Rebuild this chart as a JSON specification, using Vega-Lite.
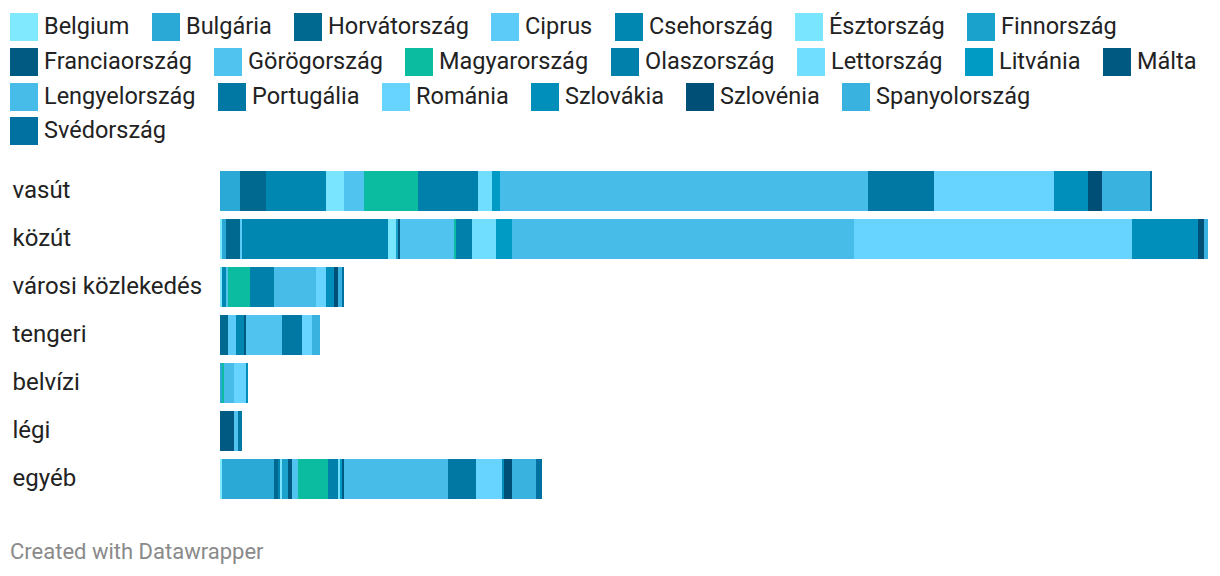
{
  "$schema": "https://vega.github.io/schema/vega-lite/v6.json",
  "width": 988,
  "height": 336,
  "autosize": {"type": "none"},
  "padding": {"left": 220, "top": 167, "right": 12, "bottom": 73},
  "background": "white",
  "title": {
    "text": "Created with Datawrapper",
    "orient": "bottom",
    "anchor": "start",
    "frame": "group",
    "dx": -210,
    "offset": 39,
    "font": "Roboto",
    "fontSize": 22,
    "fontWeight": "normal",
    "color": "#8a8a8a"
  },
  "datasets": {
    "countries": [
      {"country": "Belgium", "n": 1},
      {"country": "Bulgária", "n": 2},
      {"country": "Horvátország", "n": 3},
      {"country": "Ciprus", "n": 4},
      {"country": "Csehország", "n": 5},
      {"country": "Észtország", "n": 6},
      {"country": "Finnország", "n": 7},
      {"country": "Franciaország", "n": 8},
      {"country": "Görögország", "n": 9},
      {"country": "Magyarország", "n": 10},
      {"country": "Olaszország", "n": 11},
      {"country": "Lettország", "n": 12},
      {"country": "Litvánia", "n": 13},
      {"country": "Málta", "n": 14},
      {"country": "Lengyelország", "n": 15},
      {"country": "Portugália", "n": 16},
      {"country": "Románia", "n": 17},
      {"country": "Szlovákia", "n": 18},
      {"country": "Szlovénia", "n": 19},
      {"country": "Spanyolország", "n": 20},
      {"country": "Svédország", "n": 21}
    ],
    "spend": [
      {"mode": "vasút", "country": "Bulgária", "value": 20},
      {"mode": "vasút", "country": "Horvátország", "value": 26},
      {"mode": "vasút", "country": "Csehország", "value": 60},
      {"mode": "vasút", "country": "Észtország", "value": 18},
      {"mode": "vasút", "country": "Görögország", "value": 20},
      {"mode": "vasút", "country": "Magyarország", "value": 54},
      {"mode": "vasút", "country": "Olaszország", "value": 60},
      {"mode": "vasút", "country": "Lettország", "value": 14},
      {"mode": "vasút", "country": "Litvánia", "value": 8},
      {"mode": "vasút", "country": "Lengyelország", "value": 368},
      {"mode": "vasút", "country": "Portugália", "value": 66},
      {"mode": "vasút", "country": "Románia", "value": 120},
      {"mode": "vasút", "country": "Szlovákia", "value": 34},
      {"mode": "vasút", "country": "Szlovénia", "value": 14},
      {"mode": "vasút", "country": "Spanyolország", "value": 48},
      {"mode": "vasút", "country": "Svédország", "value": 2},

      {"mode": "közút", "country": "Belgium", "value": 2},
      {"mode": "közút", "country": "Bulgária", "value": 4},
      {"mode": "közút", "country": "Horvátország", "value": 14},
      {"mode": "közút", "country": "Ciprus", "value": 2},
      {"mode": "közút", "country": "Csehország", "value": 146},
      {"mode": "közút", "country": "Észtország", "value": 8},
      {"mode": "közút", "country": "Finnország", "value": 2},
      {"mode": "közút", "country": "Franciaország", "value": 2},
      {"mode": "közút", "country": "Görögország", "value": 54},
      {"mode": "közút", "country": "Magyarország", "value": 2},
      {"mode": "közút", "country": "Olaszország", "value": 16},
      {"mode": "közút", "country": "Lettország", "value": 24},
      {"mode": "közút", "country": "Litvánia", "value": 16},
      {"mode": "közút", "country": "Lengyelország", "value": 342},
      {"mode": "közút", "country": "Románia", "value": 278},
      {"mode": "közút", "country": "Szlovákia", "value": 66},
      {"mode": "közút", "country": "Szlovénia", "value": 6},
      {"mode": "közút", "country": "Spanyolország", "value": 4},

      {"mode": "városi közlekedés", "country": "Belgium", "value": 2},
      {"mode": "városi közlekedés", "country": "Csehország", "value": 4},
      {"mode": "városi közlekedés", "country": "Görögország", "value": 2},
      {"mode": "városi közlekedés", "country": "Magyarország", "value": 22},
      {"mode": "városi közlekedés", "country": "Olaszország", "value": 24},
      {"mode": "városi közlekedés", "country": "Lengyelország", "value": 42},
      {"mode": "városi közlekedés", "country": "Románia", "value": 10},
      {"mode": "városi közlekedés", "country": "Szlovákia", "value": 8},
      {"mode": "városi közlekedés", "country": "Szlovénia", "value": 4},
      {"mode": "városi közlekedés", "country": "Spanyolország", "value": 4},
      {"mode": "városi közlekedés", "country": "Svédország", "value": 2},

      {"mode": "tengeri", "country": "Horvátország", "value": 8},
      {"mode": "tengeri", "country": "Ciprus", "value": 8},
      {"mode": "tengeri", "country": "Csehország", "value": 8},
      {"mode": "tengeri", "country": "Franciaország", "value": 2},
      {"mode": "tengeri", "country": "Görögország", "value": 36},
      {"mode": "tengeri", "country": "Portugália", "value": 20},
      {"mode": "tengeri", "country": "Románia", "value": 10},
      {"mode": "tengeri", "country": "Spanyolország", "value": 8},

      {"mode": "belvízi", "country": "Bulgária", "value": 2},
      {"mode": "belvízi", "country": "Magyarország", "value": 2},
      {"mode": "belvízi", "country": "Lengyelország", "value": 10},
      {"mode": "belvízi", "country": "Románia", "value": 12},
      {"mode": "belvízi", "country": "Szlovákia", "value": 2},

      {"mode": "légi", "country": "Franciaország", "value": 14},
      {"mode": "légi", "country": "Görögország", "value": 4},
      {"mode": "légi", "country": "Portugália", "value": 4},

      {"mode": "egyéb", "country": "Belgium", "value": 2},
      {"mode": "egyéb", "country": "Bulgária", "value": 52},
      {"mode": "egyéb", "country": "Horvátország", "value": 4},
      {"mode": "egyéb", "country": "Csehország", "value": 2},
      {"mode": "egyéb", "country": "Észtország", "value": 2},
      {"mode": "egyéb", "country": "Finnország", "value": 6},
      {"mode": "egyéb", "country": "Franciaország", "value": 4},
      {"mode": "egyéb", "country": "Görögország", "value": 6},
      {"mode": "egyéb", "country": "Magyarország", "value": 30},
      {"mode": "egyéb", "country": "Olaszország", "value": 10},
      {"mode": "egyéb", "country": "Lettország", "value": 2},
      {"mode": "egyéb", "country": "Litvánia", "value": 2},
      {"mode": "egyéb", "country": "Málta", "value": 2},
      {"mode": "egyéb", "country": "Lengyelország", "value": 104},
      {"mode": "egyéb", "country": "Portugália", "value": 28},
      {"mode": "egyéb", "country": "Románia", "value": 26},
      {"mode": "egyéb", "country": "Szlovákia", "value": 2},
      {"mode": "egyéb", "country": "Szlovénia", "value": 8},
      {"mode": "egyéb", "country": "Spanyolország", "value": 24},
      {"mode": "egyéb", "country": "Svédország", "value": 6}
    ]
  },
  "layer": [
    {
      "data": {"name": "spend"},
      "transform": [
        {"lookup": "country", "from": {"data": {"name": "countries"}, "key": "country", "fields": ["n"]}}
      ],
      "mark": {"type": "bar", "strokeWidth": 0, "cornerRadius": 0},
      "encoding": {
        "y": {
          "field": "mode",
          "type": "nominal",
          "sort": ["vasút", "közút", "városi közlekedés", "tengeri", "belvízi", "légi", "egyéb"],
          "scale": {"paddingInner": 0.1667, "paddingOuter": 0.0833},
          "axis": {
            "title": null,
            "domain": false,
            "ticks": false,
            "grid": false,
            "labelAlign": "left",
            "labelPadding": 208,
            "labelFont": "Roboto",
            "labelFontSize": 24,
            "labelColor": "#222222",
            "labelLimit": 300
          }
        },
        "x": {
          "field": "value",
          "type": "quantitative",
          "stack": "zero",
          "scale": {"domain": [0, 988], "nice": false, "zero": true},
          "axis": null
        },
        "order": {"field": "n", "type": "quantitative", "sort": "ascending"},
        "color": {
          "field": "country",
          "type": "nominal",
          "scale": {
            "domain": ["Belgium", "Bulgária", "Horvátország", "Ciprus", "Csehország", "Észtország", "Finnország", "Franciaország", "Görögország", "Magyarország", "Olaszország", "Lettország", "Litvánia", "Málta", "Lengyelország", "Portugália", "Románia", "Szlovákia", "Szlovénia", "Spanyolország", "Svédország"],
            "range": ["#80e9fe", "#2aa8d6", "#00698f", "#5ccbf8", "#0087b1", "#7ae5fe", "#1aa2cd", "#005a82", "#50c4ef", "#0bbca1", "#0080aa", "#70deff", "#009bc5", "#005980", "#47bce8", "#0078a3", "#66d4fe", "#008fbb", "#004f77", "#3ab2df", "#0071a0"]
          },
          "legend": null
        }
      }
    },
    {
      "data": {"name": "countries"},
      "transform": [{"filter": "datum.n <= 7"}],
      "mark": {"type": "point", "filled": true, "opacity": 0},
      "encoding": {
        "color": {
          "field": "country",
          "type": "nominal",
          "scale": {
            "domain": ["Belgium", "Bulgária", "Horvátország", "Ciprus", "Csehország", "Észtország", "Finnország"],
            "range": ["#80e9fe", "#2aa8d6", "#00698f", "#5ccbf8", "#0087b1", "#7ae5fe", "#1aa2cd"]
          },
          "legend": {"legendY": -154}
        }
      }
    },
    {
      "data": {"name": "countries"},
      "transform": [{"filter": "datum.n >= 8 && datum.n <= 14"}],
      "mark": {"type": "point", "filled": true, "opacity": 0},
      "encoding": {
        "color": {
          "field": "country",
          "type": "nominal",
          "scale": {
            "domain": ["Franciaország", "Görögország", "Magyarország", "Olaszország", "Lettország", "Litvánia", "Málta"],
            "range": ["#005a82", "#50c4ef", "#0bbca1", "#0080aa", "#70deff", "#009bc5", "#005980"]
          },
          "legend": {"legendY": -119}
        }
      }
    },
    {
      "data": {"name": "countries"},
      "transform": [{"filter": "datum.n >= 15 && datum.n <= 20"}],
      "mark": {"type": "point", "filled": true, "opacity": 0},
      "encoding": {
        "color": {
          "field": "country",
          "type": "nominal",
          "scale": {
            "domain": ["Lengyelország", "Portugália", "Románia", "Szlovákia", "Szlovénia", "Spanyolország"],
            "range": ["#47bce8", "#0078a3", "#66d4fe", "#008fbb", "#004f77", "#3ab2df"]
          },
          "legend": {"legendY": -84}
        }
      }
    },
    {
      "data": {"name": "countries"},
      "transform": [{"filter": "datum.n == 21"}],
      "mark": {"type": "point", "filled": true, "opacity": 0},
      "encoding": {
        "color": {
          "field": "country",
          "type": "nominal",
          "scale": {
            "domain": ["Svédország"],
            "range": ["#0071a0"]
          },
          "legend": {"legendY": -50}
        }
      }
    }
  ],
  "resolve": {"scale": {"color": "independent"}, "legend": {"color": "independent"}},
  "config": {
    "view": {"stroke": null},
    "legend": {
      "title": null,
      "orient": "none",
      "legendX": -210,
      "direction": "horizontal",
      "columns": 7,
      "symbolType": "square",
      "symbolSize": 784,
      "symbolStrokeWidth": 0,
      "symbolOpacity": 1,
      "labelFont": "Roboto",
      "labelFontSize": 23.5,
      "labelColor": "#222222",
      "labelOffset": 6,
      "labelLimit": 300,
      "rowPadding": 7,
      "columnPadding": 22,
      "padding": 0
    }
  }
}
